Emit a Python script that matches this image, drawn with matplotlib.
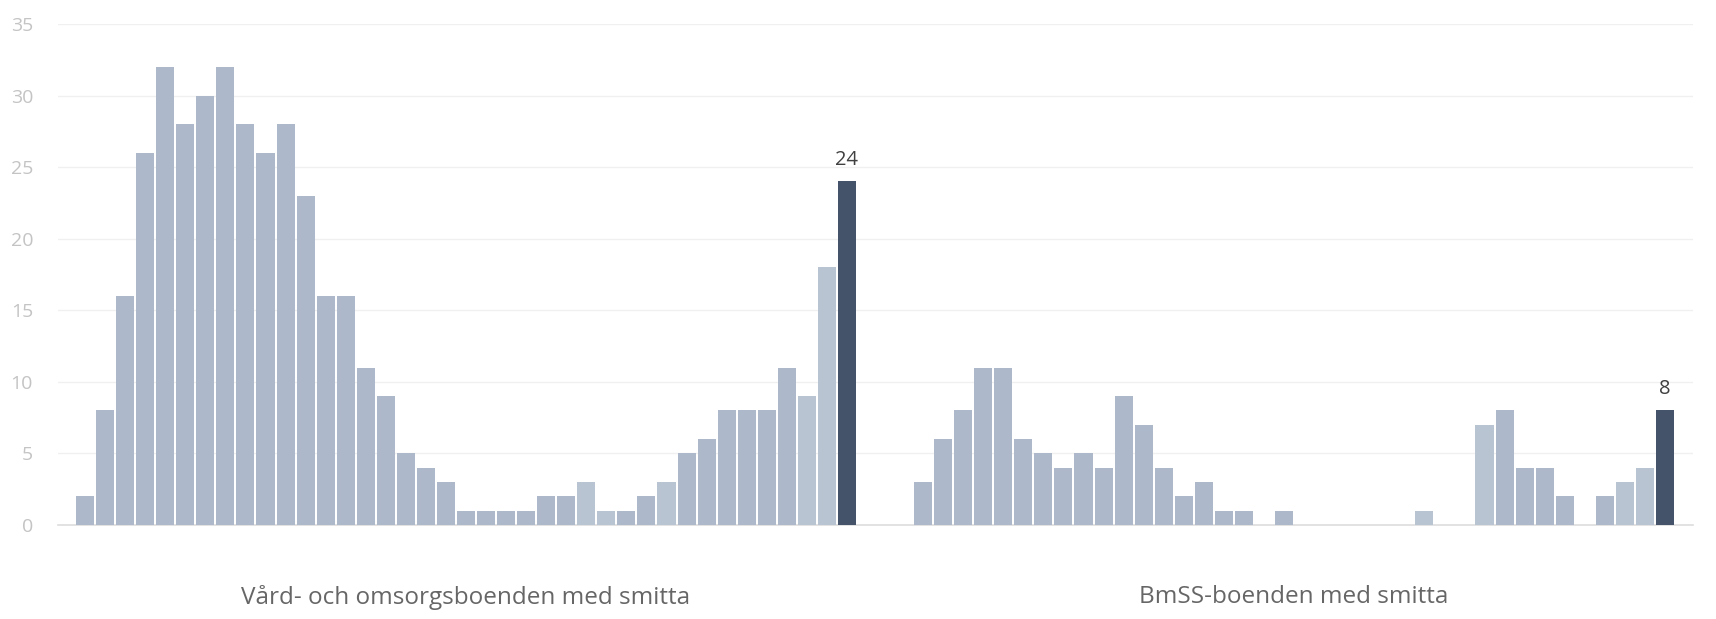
import matplotlib
matplotlib.use("Agg")
import matplotlib.pyplot as plt
import numpy as np

# ---- data ----
categories = ["Vård- och omsorgsboenden med smitta", "BmSS-boenden med smitta"]
vard_values = [2, 8, 16, 26, 32, 28, 30, 32, 28, 26, 28, 23, 16, 16, 11, 9, 5, 4, 3,
               1, 1, 1, 1, 2, 2, 3, 1, 1, 2, 3, 5, 6, 8, 8, 8, 11, 9, 18, 24]
bmss_values = [3, 6, 8, 11, 11, 6, 5, 4, 5, 4, 9, 7, 4, 2, 3, 1, 1, 0, 1,
               0, 0, 0, 0, 0, 0, 1, 0, 0, 7, 8, 4, 4, 2, 0, 2, 3, 4, 8]
vard_light = [25, 26, 29, 36, 37]
bmss_light = [25, 28, 35, 36]
y_ticks = [0, 5, 10, 15, 20, 25, 30, 35]

# ---- style ----
C_NORMAL = "#ADB8CA"
C_LIGHT = "#B9C4D2"
C_DARK = "#44536A"
FONT = "Open Sans"

W, H = 1716, 619
fig = plt.figure(figsize=(W / 100, H / 100), dpi=100)
ax = fig.add_axes([58 / W, 1 - 525 / H, (1693 - 58) / W, (525 - 24) / H])

group_gap = 2.8
groups = [(vard_values, vard_light), (bmss_values, bmss_light)]
starts = []
start = 0.0
for vals, light in groups:
    starts.append(start)
    n = len(vals)
    xs = start + np.arange(n)
    colors = []
    for i in range(n):
        if i == n - 1:
            colors.append(C_DARK)
        elif i in light:
            colors.append(C_LIGHT)
        else:
            colors.append(C_NORMAL)
    ax.bar(xs, vals, width=0.9, color=colors, zorder=3)
    ax.annotate(f"{vals[-1]}", xy=(xs[-1], vals[-1]), xytext=(0, 12),
                textcoords="offset points", ha="center", va="baseline",
                fontsize=14.5, color="#404040", family=FONT, zorder=4)
    start = start + n + group_gap

ax.set_xlim(-1.35, 80.2)
ax.set_ylim(0, 35)
ax.set_yticks(y_ticks)
ax.set_yticklabels([str(t) for t in y_ticks], fontsize=14, color="#C4C4C4", family=FONT)
ax.tick_params(axis="y", length=0, pad=18)
ax.set_xticks([])
ax.grid(axis="y", color="#F0F0F0", linewidth=1.0, zorder=0)
for s in ["top", "right", "left"]:
    ax.spines[s].set_visible(False)
ax.spines["bottom"].set_color("#DDDDDD")
ax.spines["bottom"].set_linewidth(1.2)

for (vals, _), st, cat in zip(groups, starts, categories):
    cx = st + (len(vals) - 1) / 2
    ax.text(cx, 1 - 597 / H, cat,
            transform=matplotlib.transforms.blended_transform_factory(ax.transData, fig.transFigure),
            ha="center", va="center", fontsize=17.5, color="#666666", family=FONT)

fig.savefig("out.png", dpi=100, facecolor="white")
